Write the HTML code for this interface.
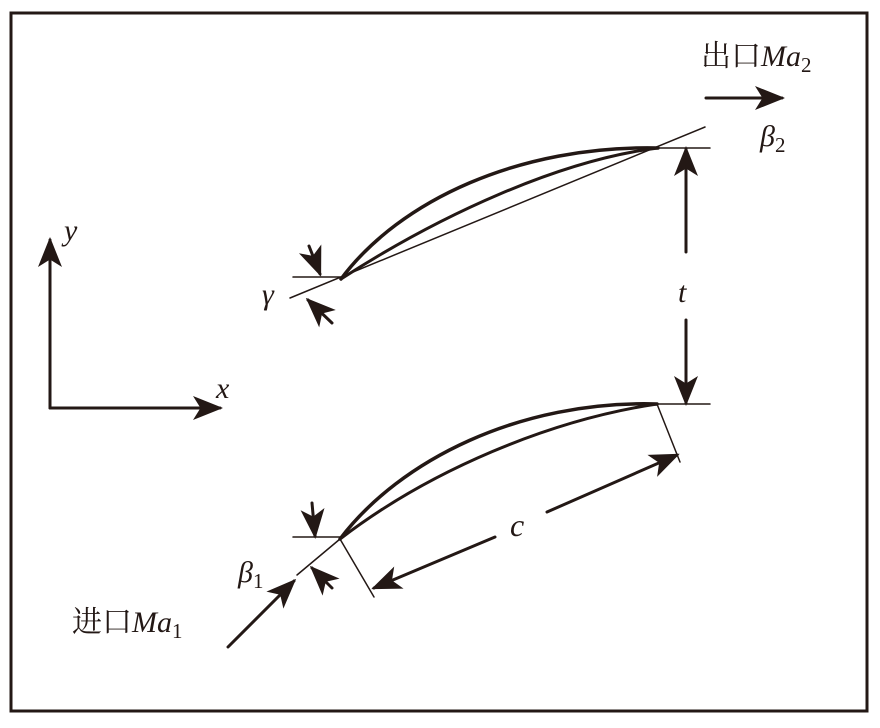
<!DOCTYPE html>
<html><head><meta charset="utf-8"><style>
html,body{margin:0;padding:0;background:#fff;}
svg{display:block;}
text{font-family:"Liberation Serif","Noto Serif CJK SC",serif;fill:#231815;}
</style></head><body>
<svg width="880" height="728" viewBox="0 0 880 728" xmlns="http://www.w3.org/2000/svg">
<defs>
<marker id="ab" viewBox="0 0 10 10" refX="9" refY="5" markerWidth="30" markerHeight="30" markerUnits="userSpaceOnUse" orient="auto">
<path d="M0,1 L10,5 L0,9 L2.5,5 z" fill="#231815"/></marker>
</defs>
<rect x="11" y="13" width="856" height="698" fill="none" stroke="#231815" stroke-width="3"/>
<g stroke="#231815" fill="none" stroke-linecap="round">
<line x1="50" y1="408" x2="50" y2="240" stroke-width="3" marker-end="url(#ab)"/>
<line x1="50" y1="408" x2="220" y2="408" stroke-width="3" marker-end="url(#ab)"/>
<path d="M341,279 C400,200 520,145 658,148" stroke-width="3.5"/>
<path d="M341,279 C440,215 560,160 658,148" stroke-width="3"/>
<line x1="290" y1="298" x2="705" y2="127" stroke-width="1.5"/>
<line x1="293" y1="277" x2="341" y2="277" stroke-width="1.5"/>
<line x1="658" y1="148" x2="710" y2="148" stroke-width="1.5"/>
<line x1="309" y1="246" x2="320" y2="274" stroke-width="3" marker-end="url(#ab)"/>
<line x1="332" y1="323" x2="308" y2="300" stroke-width="3" marker-end="url(#ab)"/>
<line x1="686" y1="252" x2="686" y2="149" stroke-width="3" marker-end="url(#ab)"/>
<line x1="686" y1="320" x2="686" y2="403" stroke-width="3" marker-end="url(#ab)"/>
<path d="M340,539 C400,460 520,400 657,404" stroke-width="3.5"/>
<path d="M340,539 C430,470 550,420 657,404" stroke-width="3"/>
<line x1="293" y1="537" x2="340" y2="537" stroke-width="1.5"/>
<line x1="657" y1="404" x2="710" y2="404" stroke-width="1.5"/>
<line x1="340" y1="539" x2="297" y2="575" stroke-width="1.5"/>
<line x1="340" y1="539" x2="374" y2="597" stroke-width="1.5"/>
<line x1="657" y1="404" x2="680" y2="462" stroke-width="1.5"/>
<line x1="495" y1="537" x2="374" y2="588" stroke-width="3" marker-end="url(#ab)"/>
<line x1="547" y1="512" x2="677" y2="455" stroke-width="3" marker-end="url(#ab)"/>
<line x1="312" y1="503" x2="315" y2="536" stroke-width="3" marker-end="url(#ab)"/>
<line x1="332" y1="588" x2="312" y2="568" stroke-width="3" marker-end="url(#ab)"/>
<line x1="228" y1="647" x2="294" y2="581" stroke-width="3" marker-end="url(#ab)"/>
<line x1="706" y1="98" x2="782" y2="98" stroke-width="3" marker-end="url(#ab)"/>
</g>
<text x="64" y="240" font-size="30" font-style="italic">y</text>
<text x="216" y="398" font-size="30" font-style="italic">x</text>
<text x="262" y="304" font-size="30" font-style="italic">γ</text>
<text x="678" y="302" font-size="30" font-style="italic">t</text>
<text x="510" y="536" font-size="32" font-style="italic">c</text>
<text x="238" y="582" font-size="30" font-style="italic">β<tspan font-size="21" font-style="normal" dy="6">1</tspan></text>
<text x="760" y="146" font-size="30" font-style="italic">β<tspan font-size="21" font-style="normal" dy="6">2</tspan></text>
<text x="72" y="632" font-size="30">进口<tspan font-style="italic">Ma</tspan><tspan font-size="21" dy="6">1</tspan></text>
<text x="701" y="66" font-size="30">出口<tspan font-style="italic">Ma</tspan><tspan font-size="21" dy="6">2</tspan></text>
</svg>
</body></html>
